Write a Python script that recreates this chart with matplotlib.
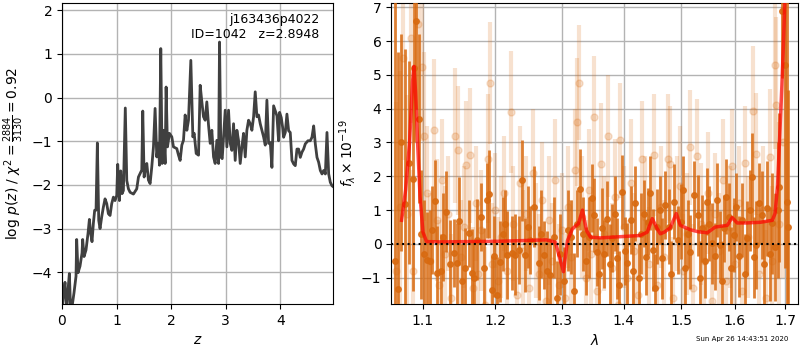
import matplotlib
matplotlib.use("Agg")
import matplotlib.pyplot as plt
from matplotlib.ticker import NullLocator

# Redshift probability, log p(z) on the fit grid
pz_z = [0.000, 0.024, 0.055, 0.086, 0.116, 0.135, 0.159, 0.183, 0.220, 0.257,
        0.269, 0.294, 0.330, 0.367, 0.379, 0.404, 0.440, 0.477, 0.502, 0.526,
        0.550, 0.575, 0.599, 0.624, 0.648, 0.673, 0.697, 0.728, 0.758, 0.789,
        0.820, 0.850, 0.881, 0.911, 0.942, 0.972, 1.003, 1.021, 1.052, 1.076,
        1.101, 1.125, 1.160, 1.187, 1.217, 1.248, 1.309, 1.370, 1.401, 1.431,
        1.462, 1.480, 1.505, 1.523, 1.554, 1.584, 1.615, 1.645, 1.676, 1.706,
        1.737, 1.768, 1.786, 1.810, 1.835, 1.859, 1.890, 1.908, 1.933, 1.969,
        2.012, 2.043, 2.104, 2.135, 2.165, 2.196, 2.226, 2.257, 2.288, 2.318,
        2.361, 2.398, 2.422, 2.459, 2.502, 2.532, 2.563, 2.593, 2.624, 2.654,
        2.685, 2.716, 2.746, 2.777, 2.807, 2.838, 2.869, 2.887, 2.912, 2.936,
        2.960, 2.991, 3.022, 3.052, 3.083, 3.113, 3.144, 3.174, 3.205, 3.235,
        3.266, 3.297, 3.327, 3.358, 3.388, 3.419, 3.450, 3.480, 3.511, 3.541,
        3.572, 3.602, 3.633, 3.664, 3.694, 3.725, 3.755, 3.786, 3.817, 3.847,
        3.878, 3.908, 3.939, 3.969, 3.988, 4.018, 4.043, 4.061, 4.092, 4.122,
        4.153, 4.183, 4.214, 4.245, 4.275, 4.306, 4.336, 4.367, 4.398, 4.428,
        4.459, 4.508, 4.550, 4.581, 4.612, 4.642, 4.673, 4.703, 4.734, 4.765,
        4.795, 4.826, 4.856, 4.887, 4.917, 4.948, 4.979]
pz_logp = [-4.90, -4.54, -4.23, -4.90, -4.32, -4.03, -4.90, -4.80, -4.47, -4.09,
           -3.25, -4.01, -3.86, -3.56, -3.25, -3.64, -3.49, -3.11, -2.79, -3.11,
           -3.30, -2.88, -2.58, -2.58, -1.04, -2.81, -3.00, -2.73, -2.51, -2.32,
           -2.43, -2.66, -2.70, -2.43, -2.28, -2.36, -2.24, -1.53, -2.36, -1.68,
           -2.20, -2.13, -0.24, -1.90, -2.09, -2.17, -2.21, -2.09, -1.82, -1.74,
           -1.66, -0.31, -1.82, -1.66, -1.51, -1.89, -1.97, -1.59, -1.13, -0.25,
           -1.36, -1.05, -1.55, 1.12, -1.51, -0.75, -1.51, 0.24, -1.13, -0.82,
           -0.90, -1.13, -1.17, -1.32, -1.44, -1.09, -0.98, -0.40, -0.75, -0.52,
           0.85, -0.90, -0.82, -1.28, -1.32, 0.28, -0.10, -0.44, -0.52, -0.10,
           -0.63, -1.05, -0.75, -1.36, -1.51, -0.98, -1.51, 1.27, -1.36, -1.40,
           -0.90, -0.29, -1.13, -0.29, -1.05, -1.21, -0.60, -1.44, -0.75, -0.98,
           -1.51, -1.13, -0.82, -1.36, -0.75, -0.52, -0.60, -0.75, -0.44, 0.13,
           -0.44, -0.40, -0.60, -0.75, -0.90, -1.09, -0.06, -1.05, -1.03, -1.60,
           -0.19, -0.30, -0.42, -0.99, -0.34, -0.46, -0.68, -0.91, -0.80, -0.38,
           -0.76, -0.80, -1.44, -1.52, -1.56, -1.18, -1.18, -1.37, -1.25, -1.18,
           -1.06, -0.99, -0.99, -0.91, -0.65, -1.06, -1.37, -1.48, -1.67, -1.75,
           -1.67, -1.75, -0.80, -1.75, -1.94, -2.02, -2.05]

# Binned grism spectrum (f_lambda in 1e-19 units)
bin_wave = [1.0640, 1.0680, 1.0720, 1.0761, 1.0815, 1.0869, 1.0885, 1.0905, 1.0945, 1.0970,
            1.1010, 1.1058, 1.1093, 1.1125, 1.1160, 1.1192, 1.1237, 1.1270, 1.1304, 1.1360,
            1.1417, 1.1463, 1.1485, 1.1532, 1.1578, 1.1624, 1.1672, 1.1704, 1.1742, 1.1789,
            1.1836, 1.1884, 1.1907, 1.1956, 1.1978, 1.2027, 1.2075, 1.2110, 1.2147, 1.2172,
            1.2245, 1.2294, 1.2342, 1.2393, 1.2431, 1.2475, 1.2517, 1.2577, 1.2643, 1.2680,
            1.2719, 1.2771, 1.2822, 1.2870, 1.2925, 1.2975, 1.3030, 1.3090, 1.3140, 1.3186,
            1.3230, 1.3281, 1.3330, 1.3380, 1.3430, 1.3480, 1.3506, 1.3561, 1.3600, 1.3642,
            1.3680, 1.3725, 1.3765, 1.3807, 1.3850, 1.3890, 1.3930, 1.3974, 1.4015, 1.4058,
            1.4126, 1.4160, 1.4199, 1.4256, 1.4300, 1.4342, 1.4375, 1.4411, 1.4455, 1.4505,
            1.4540, 1.4575, 1.4620, 1.4662, 1.4720, 1.4779, 1.4825, 1.4868, 1.4939, 1.5000,
            1.5040, 1.5079, 1.5120, 1.5157, 1.5230, 1.5303, 1.5340, 1.5384, 1.5430, 1.5477,
            1.5520, 1.5570, 1.5632, 1.5670, 1.5713, 1.5750, 1.5788, 1.5835, 1.5884, 1.5930,
            1.5980, 1.6030, 1.6076, 1.6142, 1.6190, 1.6239, 1.6290, 1.6337, 1.6380, 1.6422,
            1.6480, 1.6535, 1.6580, 1.6634, 1.6690, 1.6734, 1.6790, 1.6842, 1.6881, 1.6931,
            1.6998, 1.7042, 1.7065]
bin_flux = [-0.50, -1.32, 3.00, 1.17, 2.40, 1.91, 5.20, 6.60, 3.70, 0.28,
            -0.30, -0.47, -0.50, 0.40, 1.28, -0.86, -0.81, 0.20, 0.95, -0.60,
            -0.27, -0.57, 0.68, -1.10, -0.72, 0.31, -0.86, -1.00, 0.12, 0.80,
            -0.72, 1.29, 1.49, -1.35, -0.37, -1.50, -0.52, 0.30, 0.60, -0.32,
            -0.27, -0.32, -0.18, 1.88, -0.32, 0.50, 0.12, 1.10, -0.57, 0.30,
            -0.32, -0.81, -0.91, 0.20, -1.60, -0.30, -1.10, 0.40, 0.20, -1.38,
            0.60, 1.62, 0.30, -0.50, 0.20, 1.36, 0.85, -0.23, -0.90, 0.46,
            -0.30, 0.75, -0.60, 0.17, 0.90, -0.42, -1.20, 1.54, -0.20, -0.57,
            0.71, -0.80, 1.20, -1.00, 0.30, 0.90, -0.40, 0.66, 1.50, -0.18,
            -1.30, 0.51, 1.00, -0.42, 1.15, 0.51, -0.90, 1.25, 0.12, 0.66,
            1.60, -0.72, 0.30, -0.23, 1.44, 0.85, -1.00, 0.46, -0.50, 1.25,
            0.60, 0.02, -0.37, 1.30, -0.03, -1.10, 0.46, 1.40, 0.80, -0.70,
            0.26, 1.10, -0.37, 0.71, -0.90, 0.17, 1.00, 1.98, -0.40, -0.03,
            1.20, 0.85, -0.60, 1.05, -0.30, 0.61, -0.10, 1.00, 1.67, 6.90,
            5.30, 1.24, 0.50]
bin_err = [9.0, 7.0, 3.2, 4.6, 3.0, 3.3, 2.2, 2.6, 2.5, 1.9,
           1.6, 1.4, 1.5, 1.3, 1.2, 1.4, 1.1, 1.3, 1.2, 1.3,
           1.0, 1.2, 1.3, 1.1, 1.2, 1.0, 1.3, 1.1, 1.2, 1.0,
           1.2, 1.1, 1.3, 1.0, 1.2, 1.1, 1.2, 1.1, 1.0, 1.3,
           1.1, 1.2, 1.0, 1.2, 1.1, 1.2, 1.0, 1.2, 1.1, 1.3,
           1.0, 1.2, 1.1, 1.2, 1.1, 1.2, 1.0, 1.2, 1.1, 1.1,
           1.0, 1.2, 1.1, 1.0, 1.2, 1.0, 1.1, 1.0, 1.1, 1.2,
           1.0, 1.1, 1.2, 1.0, 1.1, 1.2, 1.0, 1.1, 1.0, 1.2,
           1.0, 1.1, 1.1, 1.0, 1.2, 1.0, 1.1, 1.0, 1.1, 1.2,
           1.0, 1.1, 1.0, 1.2, 1.0, 1.1, 1.0, 1.1, 1.0, 1.1,
           1.0, 1.2, 1.0, 1.1, 1.0, 1.2, 1.1, 1.0, 1.1, 1.0,
           1.1, 1.2, 1.0, 1.1, 1.0, 1.2, 1.0, 1.1, 1.0, 1.2,
           1.1, 1.0, 1.2, 1.1, 1.2, 1.1, 1.2, 1.3, 1.2, 1.3,
           1.2, 1.3, 1.3, 1.4, 1.4, 1.5, 1.6, 2.0, 2.2, 2.0,
           6.0, 8.0, 4.05]

# Unbinned spectrum pixels
pix_wave = [1.0650, 1.0700, 1.0739, 1.0790, 1.0839, 1.0870, 1.0934, 1.0983, 1.1022, 1.1060,
            1.1100, 1.1146, 1.1185, 1.1220, 1.1260, 1.1300, 1.1340, 1.1380, 1.1430, 1.1477,
            1.1520, 1.1560, 1.1591, 1.1638, 1.1680, 1.1720, 1.1760, 1.1800, 1.1850, 1.1891,
            1.1920, 1.1960, 1.2000, 1.2040, 1.2085, 1.2130, 1.2175, 1.2222, 1.2265, 1.2310,
            1.2355, 1.2400, 1.2450, 1.2500, 1.2550, 1.2600, 1.2650, 1.2700, 1.2750, 1.2800,
            1.2850, 1.2900, 1.2950, 1.3000, 1.3050, 1.3100, 1.3150, 1.3200, 1.3240, 1.3265,
            1.3320, 1.3375, 1.3430, 1.3470, 1.3506, 1.3560, 1.3627, 1.3680, 1.3741, 1.3800,
            1.3850, 1.3900, 1.3944, 1.4000, 1.4060, 1.4120, 1.4180, 1.4240, 1.4312, 1.4370,
            1.4430, 1.4512, 1.4580, 1.4640, 1.4700, 1.4760, 1.4795, 1.4860, 1.4920, 1.4980,
            1.5040, 1.5100, 1.5157, 1.5220, 1.5292, 1.5360, 1.5420, 1.5490, 1.5560, 1.5630,
            1.5700, 1.5770, 1.5840, 1.5900, 1.5949, 1.6010, 1.6080, 1.6140, 1.6192, 1.6260,
            1.6348, 1.6422, 1.6480, 1.6550, 1.6620, 1.6686, 1.6740, 1.6787, 1.6821, 1.6880,
            1.6950]
pix_flux = [-0.80, 1.10, 5.49, 0.90, 6.08, -0.80, 6.49, 5.24, 3.18, 1.50,
            -0.50, 3.38, 0.70, -1.20, 1.90, -0.30, 0.90, -1.60, 3.20, 2.77,
            -0.40, 0.50, 2.33, 2.62, -1.30, 1.20, -0.90, 0.40, -1.80, 2.52,
            4.75, -0.60, 1.00, -1.10, 0.20, 1.50, -0.80, 3.90, 0.60, -1.50,
            1.80, -0.20, 0.90, -1.30, 2.10, 0.10, -0.90, 1.30, -1.70, 0.70,
            -0.50, 1.90, -1.20, 0.40, -1.60, 1.10, -0.40, 2.20, 3.60, 4.77,
            0.80, -1.00, 1.60, -0.30, 3.75, -1.40, 2.36, 0.30, 3.20, -0.70,
            1.40, -1.80, 3.06, 0.50, -1.00, 1.80, -0.20, -1.50, 2.52, 0.80,
            -0.60, 2.62, -1.20, 1.10, -0.40, 2.52, 2.37, -1.60, 0.90, 1.70,
            -0.80, 0.30, 2.86, -1.30, 2.59, 0.60, -0.50, 1.50, -1.70, 0.90,
            -0.20, 1.90, -1.10, 0.50, 2.30, -0.60, 1.20, -1.40, 2.39, 0.20,
            3.94, 2.65, -0.90, 1.00, -1.60, 2.57, -0.50, 5.30, 4.11, 0.60,
            3.00]
pix_err = [5.0, 4.0, 3.0, 3.5, 2.5, 3.0, 2.8, 2.2, 2.5, 2.0,
           2.0, 2.1, 1.8, 1.9, 1.8, 2.0, 1.7, 1.9, 2.0, 1.9,
           1.7, 1.8, 1.9, 2.0, 1.8, 1.7, 1.9, 1.8, 1.7, 1.9,
           1.8, 1.8, 1.7, 1.9, 1.8, 1.7, 1.8, 1.8, 1.7, 1.9,
           1.7, 1.8, 1.7, 1.8, 1.9, 1.7, 1.8, 1.7, 1.8, 1.9,
           1.7, 1.8, 1.8, 1.7, 1.9, 1.8, 1.7, 1.8, 1.9, 1.7,
           1.8, 1.7, 1.8, 1.7, 1.8, 1.7, 1.8, 1.7, 1.8, 1.9,
           1.7, 1.8, 1.7, 1.8, 1.7, 1.9, 1.7, 1.8, 1.7, 1.8,
           1.7, 1.8, 1.7, 1.8, 1.7, 1.9, 1.7, 1.8, 1.7, 1.8,
           1.7, 1.8, 1.7, 1.9, 1.7, 1.8, 1.7, 1.8, 1.7, 1.8,
           1.7, 1.8, 1.7, 1.8, 1.7, 1.8, 1.7, 1.8, 1.7, 1.8,
           1.9, 1.8, 1.8, 1.9, 2.0, 2.0, 2.2, 2.5, 2.6, 3.0,
           4.0]

# Best-fit template model
model_wave = [1.0723, 1.0775, 1.0826, 1.0865, 1.0884, 1.0904, 1.0931, 1.0963, 1.1002, 1.1049,
              1.1237, 1.2075, 1.2760, 1.2899, 1.2977, 1.3024, 1.3087, 1.3166, 1.3261, 1.3325,
              1.3389, 1.3454, 1.3617, 1.4282, 1.4403, 1.4490, 1.4577, 1.4630, 1.4702, 1.4807,
              1.4914, 1.4986, 1.5167, 1.5314, 1.5480, 1.5627, 1.5855, 1.5950, 1.6047, 1.6203,
              1.6497, 1.6738, 1.6792, 1.6842, 1.6881, 1.6931, 1.6962, 1.6998]
model_flux = [0.70, 1.60, 3.00, 4.80, 5.25, 4.50, 3.00, 1.40, 0.35, 0.07,
              0.06, 0.08, 0.12, 0.05, -0.50, -0.82, 0.10, 0.45, 0.60, 1.00,
              0.40, 0.20, 0.18, 0.25, 0.35, 0.75, 0.45, 0.30, 0.35, 0.48,
              0.90, 0.55, 0.42, 0.36, 0.33, 0.50, 0.55, 0.78, 0.62, 0.62,
              0.64, 0.70, 0.90, 1.70, 3.00, 4.70, 5.90, 7.50]

wave_ticks = [1.1, 1.2, 1.3, 1.4, 1.5, 1.6, 1.7]
dark_color = '#d86a10'

fig = plt.figure(figsize=(8, 3.5), dpi=100)

# Left: log p(z)
ax1 = fig.add_axes([0.0775, 0.131, 0.339, 0.86])
ax1.plot(pz_z, pz_logp, color='0.25', lw=2)
ax1.set_xlim(0, 4.97)
ax1.set_ylim(-4.73, 2.16)
ax1.set_xticks([0, 1, 2, 3, 4])
ax1.set_yticks([-4, -3, -2, -1, 0, 1, 2])
ax1.grid(color='0.7', lw=1)
ax1.set_axisbelow(True)
ax1.set_xlabel(r'$z$')
ax1.set_ylabel(r'log $p(z)$ / $\chi^2=\frac{2884}{3130}=0.92$')
ax1.text(0.948, 0.968, 'j163436p4022\nID=1042   z=2.8948', transform=ax1.transAxes,
         ha='right', va='top', multialignment='right', fontsize=9)

# Right: spectrum and model
ax2 = fig.add_axes([0.489, 0.131, 0.509, 0.86])
ax2.errorbar(pix_wave, pix_flux, yerr=pix_err, fmt='o', color=dark_color,
             alpha=0.2, ms=5, lw=3, zorder=2)
ax2.errorbar(bin_wave, bin_flux, yerr=bin_err, fmt='o', color=dark_color,
             alpha=0.85, ms=4, lw=2, zorder=3)
ax2.plot(model_wave, model_flux, color='r', lw=2.5, alpha=0.7, zorder=4)
ax2.axhline(0, color='k', ls=':', lw=1.5, zorder=5)
ax2.set_xscale('log')
ax2.set_xlim(1.059, 1.727)
ax2.set_ylim(-1.78, 7.12)
ax2.set_xticks(wave_ticks)
ax2.set_xticklabels([f'{w:.1f}' for w in wave_ticks])
ax2.xaxis.set_minor_locator(NullLocator())
ax2.set_yticks(range(-1, 8))
ax2.grid(color='0.7', lw=1)
ax2.set_axisbelow(True)
ax2.set_xlabel(r'$\lambda$')
ax2.set_ylabel(r'$f_\lambda\times10^{-19}$', labelpad=2)

fig.text(0.985, 0.022, 'Sun Apr 26 14:43:51 2020', fontsize=5, ha='right', va='bottom')

fig.savefig('out.png', dpi=100)
